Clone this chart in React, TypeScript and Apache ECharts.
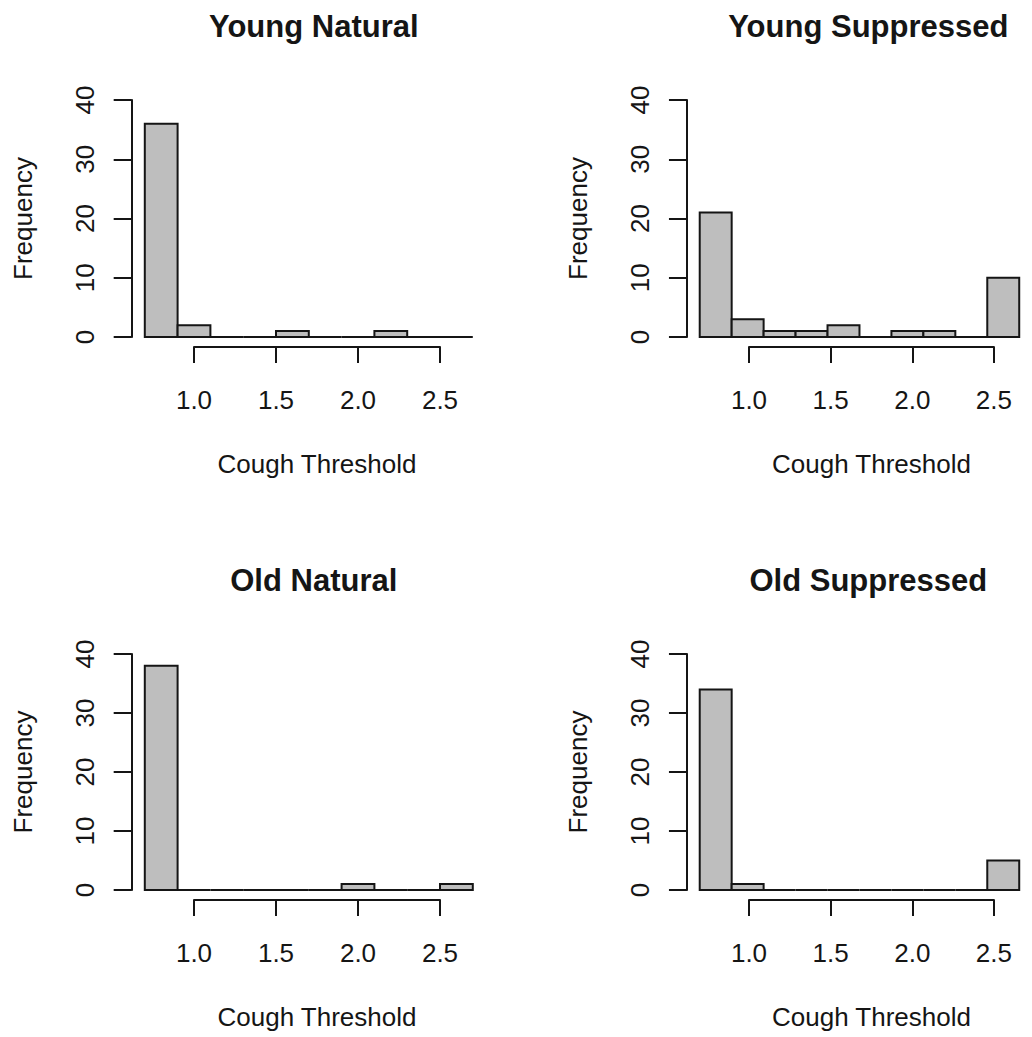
import React, { useEffect, useRef } from "react";
import * as echarts from "echarts";

const BREAKS = [0.7, 0.9, 1.1, 1.3, 1.5, 1.7, 1.9, 2.1, 2.3, 2.5, 2.7];
const youngNatural = [36, 2, 0, 0, 1, 0, 0, 1, 0, 0];
const youngSuppressed = [21, 3, 1, 1, 2, 0, 1, 1, 0, 10];
const oldNatural = [38, 0, 0, 0, 0, 0, 1, 0, 0, 1];
const oldSuppressed = [34, 1, 0, 0, 0, 0, 0, 0, 0, 5];
const panelTitles = ["Young Natural", "Young Suppressed", "Old Natural", "Old Suppressed"];
const panelCounts = [youngNatural, youngSuppressed, oldNatural, oldSuppressed];
const Y_TICKS = [0, 10, 20, 30, 40];
const X_TICKS = [1.0, 1.5, 2.0, 2.5];
const X_LABEL = "Cough Threshold";
const Y_LABEL = "Frequency";

// layout: pixel of x=1.0, px per unit, pixel y of 40, pixel y of 0
const layouts = [
  { x1: 194, unit: 164, y40: 100, y0: 337 },
  { x1: 749, unit: 163.3, y40: 100, y0: 337 },
  { x1: 194, unit: 164, y40: 654, y0: 890 },
  { x1: 749, unit: 163.3, y40: 654, y0: 890 },
];

const FONT = "Liberation Sans, Arial, sans-serif";
const INK = "#151515";

export default function App() {
  const ref = useRef<HTMLDivElement>(null);
  useEffect(() => {
    const chart = echarts.init(ref.current!, null, { renderer: "svg" });
    const grids: any[] = [];
    const xAxes: any[] = [];
    const yAxes: any[] = [];
    const series: any[] = [];
    const titles: any[] = [];
    const xMin = X_TICKS[0] - 0.38;
    const xMax = BREAKS[BREAKS.length - 1] + 0.08;
    layouts.forEach((L, i) => {
      const h = L.y0 - L.y40;
      // bars grid
      grids.push({ left: L.x1 - (X_TICKS[0] - xMin) * L.unit, width: (xMax - xMin) * L.unit, top: L.y40, height: h });
      // x display grid
      grids.push({ left: L.x1, width: (X_TICKS[X_TICKS.length - 1] - X_TICKS[0]) * L.unit, top: L.y40, height: h });
      const gA = i * 2, gB = i * 2 + 1;
      xAxes.push({ type: "value", gridIndex: gA, min: xMin, max: xMax, show: false });
      xAxes.push({
        type: "value", gridIndex: gB, min: X_TICKS[0], max: X_TICKS[X_TICKS.length - 1], interval: 0.5,
        position: "bottom",
        offset: 10,
        axisLine: { show: true, onZero: false, lineStyle: { color: INK, width: 2 } },
        axisTick: { show: true, length: 16, lineStyle: { color: INK, width: 2 } },
        axisLabel: { margin: 40, fontSize: 26, fontFamily: FONT, color: INK, formatter: (v: number) => v.toFixed(1) },
        splitLine: { show: false },
        name: X_LABEL, nameLocation: "middle", nameGap: 104,
        nameTextStyle: { fontSize: 26, fontFamily: FONT, color: INK },
      });
      yAxes.push({
        type: "value", gridIndex: gA, min: Y_TICKS[0], max: Y_TICKS[Y_TICKS.length - 1], interval: 10,
        axisLine: { show: true, lineStyle: { color: INK, width: 2 } },
        axisTick: { show: true, length: 18, lineStyle: { color: INK, width: 2 } },
        axisLabel: { margin: 34, rotate: 90, fontSize: 26, fontFamily: FONT, color: INK },
        splitLine: { show: false },
        name: Y_LABEL, nameLocation: "middle", nameGap: 96, nameRotate: 90,
        nameTextStyle: { fontSize: 26, fontFamily: FONT, color: INK },
      });
      yAxes.push({ type: "value", gridIndex: gB, min: 0, max: 40, show: false });
      const data = panelCounts[i].map((c, k) => [BREAKS[k], BREAKS[k + 1], c]);
      series.push({
        type: "custom",
        xAxisIndex: gA, yAxisIndex: gA,
        clip: false,
        encode: { x: [0, 1], y: 2 },
        data,
        renderItem: (params: any, api: any) => {
          const a = api.coord([api.value(0), api.value(2)]);
          const b = api.coord([api.value(1), 0]);
          if (api.value(2) === 0) {
            return {
              type: "line",
              shape: { x1: a[0], y1: b[1], x2: b[0], y2: b[1] },
              style: { stroke: INK, lineWidth: 2 },
            };
          }
          return {
            type: "rect",
            shape: { x: a[0], y: a[1], width: b[0] - a[0], height: b[1] - a[1] },
            style: { fill: "#BEBEBE", stroke: INK, lineWidth: 2 },
          };
        },
      });
      titles.push({
        text: panelTitles[i],
        left: L.x1 + 0.7 * L.unit,
        top: L.y40 - 94,
        textAlign: "center",
        textStyle: { fontSize: 31, fontWeight: "bold", fontFamily: FONT, color: INK },
      });
    });
    chart.setOption({
      animation: false,
      backgroundColor: "#ffffff",
      title: titles,
      grid: grids,
      xAxis: xAxes,
      yAxis: yAxes,
      series,
    });
    return () => chart.dispose();
  }, []);
  return <div ref={ref} style={{ position: "absolute", left: 0, top: 0, width: 1032, height: 1037 }} />;
}
